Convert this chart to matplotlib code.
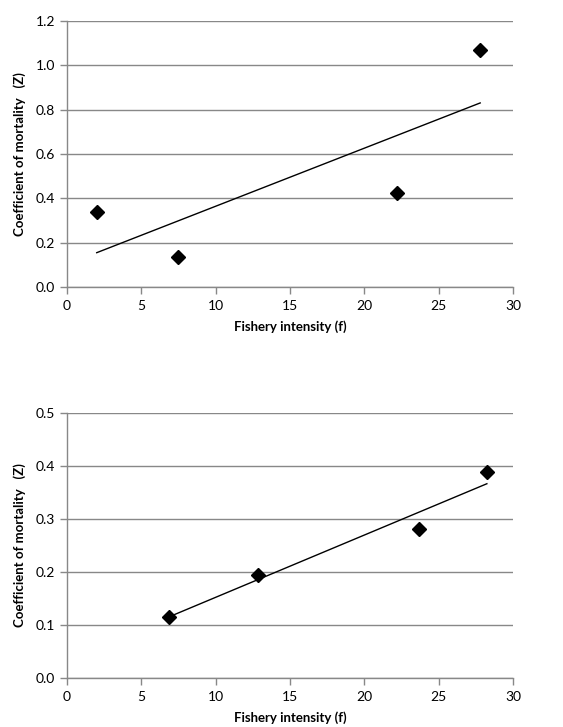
import numpy as np
import matplotlib.pyplot as plt

plt.rcParams['font.family'] = ['Lato', 'DejaVu Sans']

# top chart
f_top = [2.0, 7.5, 22.2, 27.8]
z_top = [0.34, 0.135, 0.425, 1.068]
# bottom chart
f_bot = [6.85, 12.85, 23.65, 28.25]
z_bot = [0.116, 0.194, 0.281, 0.389]

x_ticks = [0, 5, 10, 15, 20, 25, 30]
y_ticks_top = [0.0, 0.2, 0.4, 0.6, 0.8, 1.0, 1.2]
y_ticks_bot = [0.0, 0.1, 0.2, 0.3, 0.4, 0.5]

grey = '#888888'

fig = plt.figure(figsize=(5.63, 7.27), dpi=100)
ax1 = fig.add_axes([0.119, 0.6052, 0.792, 0.3659])
ax2 = fig.add_axes([0.119, 0.0674, 0.792, 0.3645])


def draw(ax, xs, ys, yticks):
    ax.plot(xs, ys, linestyle='none', marker='D', markersize=7.5,
            color='black', zorder=3)
    # linear trend line
    k, b = np.polyfit(xs, ys, 1)
    xl = np.array([min(xs), max(xs)])
    ax.plot(xl, k * xl + b, color='black', linewidth=1, zorder=2)

    ax.set_xlim(0, 30)
    ax.set_ylim(yticks[0], yticks[-1])
    ax.set_xticks(x_ticks)
    ax.set_yticks(yticks)
    ax.set_yticklabels([f'{v:.1f}' for v in yticks])
    ax.yaxis.grid(True, color=grey, linewidth=1)
    ax.set_axisbelow(True)
    for s in ['top', 'right']:
        ax.spines[s].set_visible(False)
    for s in ['left', 'bottom']:
        ax.spines[s].set_color(grey)
        ax.spines[s].set_linewidth(1)
    ax.tick_params(axis='both', colors=grey, length=5, width=1,
                   labelcolor='black', labelsize=10)
    ax.tick_params(axis='x', pad=4)
    ax.set_xlabel('Fishery intensity (f)', fontsize=9.5,
                  fontweight='bold', labelpad=6)
    ax.set_ylabel('Coefficient of mortality   (Z)', fontsize=9.5,
                  fontweight='bold', labelpad=7)


draw(ax1, f_top, z_top, y_ticks_top)
draw(ax2, f_bot, z_bot, y_ticks_bot)

fig.savefig('out.png', dpi=100)
